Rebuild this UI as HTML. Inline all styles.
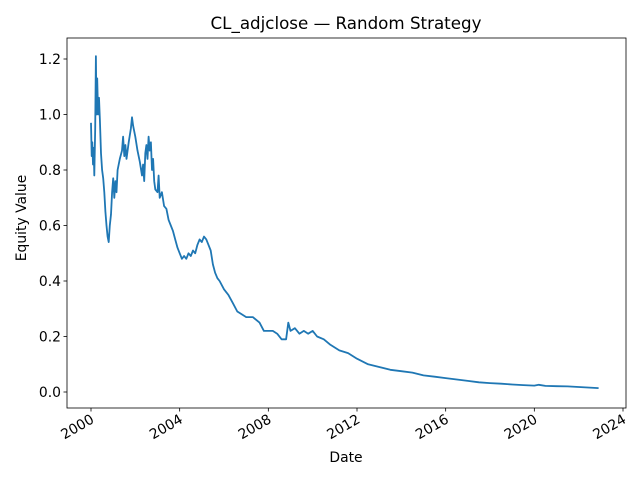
<!DOCTYPE html>
<html><head><meta charset="utf-8"><style>
body{margin:0;background:#fff}
svg text{font-family:"DejaVu Sans","Liberation Sans",sans-serif;fill:#000}
</style></head><body>
<svg id="chart" width="640" height="480" viewBox="0 0 640 480" xmlns="http://www.w3.org/2000/svg">
<rect width="640" height="480" fill="#fff"/>
<text x="346" y="29" font-size="16.7" text-anchor="middle">CL_adjclose — Random Strategy</text>
<g id="plot"></g>
<text x="346" y="462" font-size="13.9" text-anchor="middle">Date</text>
<text transform="translate(26,218) rotate(-90)" font-size="13.9" text-anchor="middle">Equity Value</text>
</svg>
<script>
const xTicks=[2000,2004,2008,2012,2016,2020,2024];
const yTicks=[0.0,0.2,0.4,0.6,0.8,1.0,1.2];
const dates=[0,0.03,0.06,0.09,0.12,0.15,0.19,0.22,0.25,0.28,0.32,0.36,0.4,0.45,0.5,0.55,0.6,0.65,0.7,0.75,0.8,0.85,0.9,0.95,1.0,1.05,1.1,1.15,1.2,1.3,1.4,1.45,1.5,1.55,1.6,1.7,1.8,1.85,1.9,2.0,2.1,2.2,2.3,2.35,2.4,2.45,2.5,2.55,2.6,2.65,2.7,2.75,2.8,2.85,2.9,3.0,3.05,3.1,3.2,3.3,3.4,3.5,3.6,3.7,3.8,3.9,4.0,4.1,4.2,4.3,4.4,4.5,4.6,4.7,4.8,4.9,5.0,5.1,5.2,5.3,5.4,5.5,5.6,5.7,5.8,6.0,6.2,6.4,6.6,6.8,7.0,7.3,7.6,7.8,8.0,8.2,8.4,8.6,8.8,8.9,9.0,9.2,9.4,9.6,9.8,10.0,10.2,10.5,10.8,11.2,11.6,12.0,12.5,13.0,13.5,14.0,14.5,15.0,15.5,16.0,16.5,17.0,17.5,18.0,18.5,19.0,19.5,20.0,20.2,20.5,21.0,21.5,22.0,22.5,22.9];
const values=[0.97,0.85,0.90,0.82,0.88,0.78,0.95,1.21,1.0,1.13,1.0,1.06,0.98,0.86,0.80,0.77,0.72,0.65,0.60,0.56,0.54,0.60,0.64,0.72,0.77,0.70,0.76,0.72,0.80,0.84,0.87,0.92,0.85,0.89,0.84,0.90,0.95,0.99,0.96,0.92,0.87,0.83,0.78,0.82,0.76,0.86,0.89,0.84,0.92,0.87,0.90,0.80,0.84,0.76,0.73,0.72,0.78,0.70,0.72,0.67,0.66,0.62,0.60,0.58,0.55,0.52,0.50,0.48,0.49,0.48,0.50,0.49,0.51,0.50,0.53,0.55,0.54,0.56,0.55,0.53,0.51,0.46,0.43,0.41,0.40,0.37,0.35,0.32,0.29,0.28,0.27,0.27,0.25,0.22,0.22,0.22,0.21,0.19,0.19,0.25,0.22,0.23,0.21,0.22,0.21,0.22,0.20,0.19,0.17,0.15,0.14,0.12,0.10,0.09,0.08,0.075,0.07,0.06,0.055,0.05,0.045,0.04,0.035,0.032,0.03,0.027,0.025,0.023,0.026,0.022,0.021,0.02,0.018,0.016,0.014];
const L=67,R=626,T=38,B=408;
const xs=yr=>91+(yr-2000)*(532/24);
const ys=v=>392-v*(333/1.2);
const NS="http://www.w3.org/2000/svg";
const g=document.getElementById('plot');
function mk(t,a){const e=document.createElementNS(NS,t);for(const k in a)e.setAttribute(k,a[k]);g.appendChild(e);return e;}
let d='';
dates.forEach((t,i)=>{d+=(i?'L':'M')+xs(2000+t).toFixed(1)+','+ys(values[i]).toFixed(1);});
const line=mk('path',{d:d,fill:'none',stroke:'#1f77b4','stroke-width':1.8,'stroke-linejoin':'round'});


const frame=mk('rect',{x:L,y:T,width:R-L,height:B-T,fill:'none',stroke:'#000','stroke-width':0.8});


xTicks.forEach(v=>{const x=xs(v);
const tk=mk('line',{x1:x,x2:x,y1:B,y2:B+3.5,stroke:'#000','stroke-width':0.8});


const tx=mk('text',{transform:`translate(${x+4},${B+14}) rotate(-30)`,'font-size':13.9,'text-anchor':'end'});
tx.textContent=v;

});
yTicks.forEach(v=>{const y=ys(v);
const tk=mk('line',{x1:L-3.5,x2:L,y1:y,y2:y,stroke:'#000','stroke-width':0.8});


const tx=mk('text',{x:L-6,y:y+5,'font-size':13.9,'text-anchor':'end'});
tx.textContent=v.toFixed(1);

});
</script>
</body></html>
